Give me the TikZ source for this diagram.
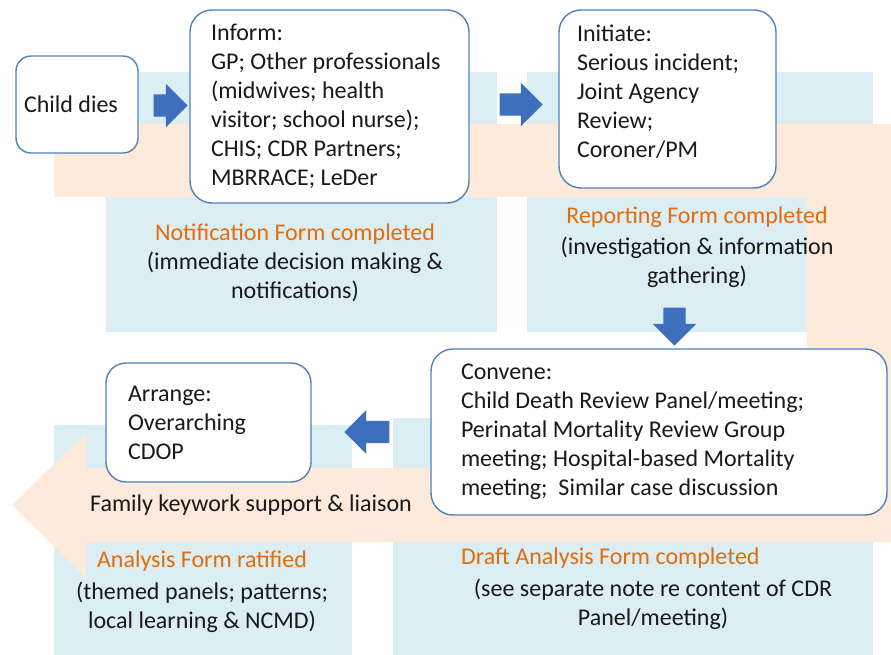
\documentclass[tikz,border=0pt]{standalone}
\usepackage{fontspec}
\setmainfont{Carlito}
\usepackage{tikz}
\usetikzlibrary{shapes.arrows, calc}

\definecolor{panelblue}{RGB}{219,238,243}
\definecolor{bandorange}{RGB}{253,234,218}
\definecolor{boxline}{RGB}{79,129,189}
\definecolor{arrowblue}{RGB}{61,111,189}
\definecolor{formorange}{RGB}{228,108,10}
\definecolor{textdark}{RGB}{25,25,25}

\tikzset{
  stagebox/.style={draw=boxline, line width=1.4pt, fill=white, rounded corners=22pt,
    align=flush left, text=textdark, font=\fontsize{24}{29}\selectfont},
  flowarrow/.style={single arrow, fill=arrowblue, draw=none, inner xsep=0pt, inner ysep=11pt,
    minimum width=43pt, single arrow head extend=10.5pt},
  formnote/.style={align=flush center, text=textdark, inner sep=0pt, font=\fontsize{24}{29}\selectfont}
}

\begin{document}
\begin{tikzpicture}[x=1pt, y=-1pt]
            \useasboundingbox (0,0) rectangle (891,655);

            % Draw the blue panels behind each stage
            \fill[panelblue] (106,72) rectangle (497,332);
            \fill[panelblue] (527,72) rectangle (873,332);
            \fill[panelblue] (54,425) rectangle (352,655);
            \fill[panelblue] (393,418) rectangle (873,655);

            % Draw the bent orange band ending in an arrow head
            \fill[bandorange] (54,124) -- (891,124) -- (891,542) -- (86,542) -- (86,578)
                -- (12,505) -- (86,433) -- (86,468) -- (807,468) -- (807,197) -- (54,197) -- cycle;

            % Stages
            \node[stagebox, rounded corners=15pt, text width=106pt, inner xsep=8pt, minimum height=97pt]
                (childdies) at (77,104.5) {Child dies};
            \node[stagebox, text width=237pt, inner xsep=21pt, minimum height=193pt]
                (inform) at (329.5,106.5) {Inform:\\GP; Other professionals\\(midwives; health\\visitor; school nurse);\\CHIS; CDR Partners;\\MBRRACE; LeDer};
            \node[stagebox, text width=181pt, inner xsep=18pt, minimum height=178pt]
                (initiate) at (667.5,99) {Initiate:\\Serious incident;\\Joint Agency\\Review;\\Coroner/PM\\[-14pt]\mbox{}};
            \node[stagebox, text width=396pt, inner xsep=30pt, minimum height=166pt]
                (convene) at (659,432) {Convene:\\Child Death Review Panel/meeting;\\Perinatal Mortality Review Group\\meeting; Hospital-based Mortality\\meeting;~ Similar case discussion};
            \node[stagebox, rounded corners=20pt, text width=161pt, inner xsep=22pt, minimum height=119pt]
                (arrange) at (208.5,422.5) {Arrange:\\Overarching\\CDOP};

            % Blue arrows between the stages
            \node[flowarrow, minimum height=34pt] (arrowA) at (165,105.5) {};
            \node[flowarrow, minimum height=43pt] (arrowB) at (515.5,104.5) {};
            \node[flowarrow, minimum height=38pt, inner xsep=11pt, inner ysep=0pt, shape border rotate=270] (arrowC) at (674.5,321) {};
            \node[flowarrow, minimum height=45pt, shape border rotate=180] (arrowD) at (372.5,432) {};

            % Forms
            \node[formnote, anchor=north] (notification) at (295,224)
                {\textcolor{formorange}{Notification Form completed}\\(immediate decision making \&\\notifications)};
            \node[formnote, anchor=north] (reporting) at (697,207)
                {\textcolor{formorange}{Reporting Form completed}\\[2pt](investigation \& information\\gathering)};
            \node[formnote, anchor=north] (analysis) at (202,551)
                {\textcolor{formorange}{Analysis Form ratified}\\[3pt](themed panels; patterns;\\local learning \& NCMD)};
            \node[formnote, anchor=west, text=formorange] (drafttitle) at (461,558) {Draft Analysis Form completed};
            \node[formnote, anchor=north] (draftnote) at (653,579)
                {(see separate note re content of CDR\\Panel/meeting)};
            \node[formnote] (family) at (251,505) {Family keywork support \& liaison};
        \end{tikzpicture}
\end{document}
